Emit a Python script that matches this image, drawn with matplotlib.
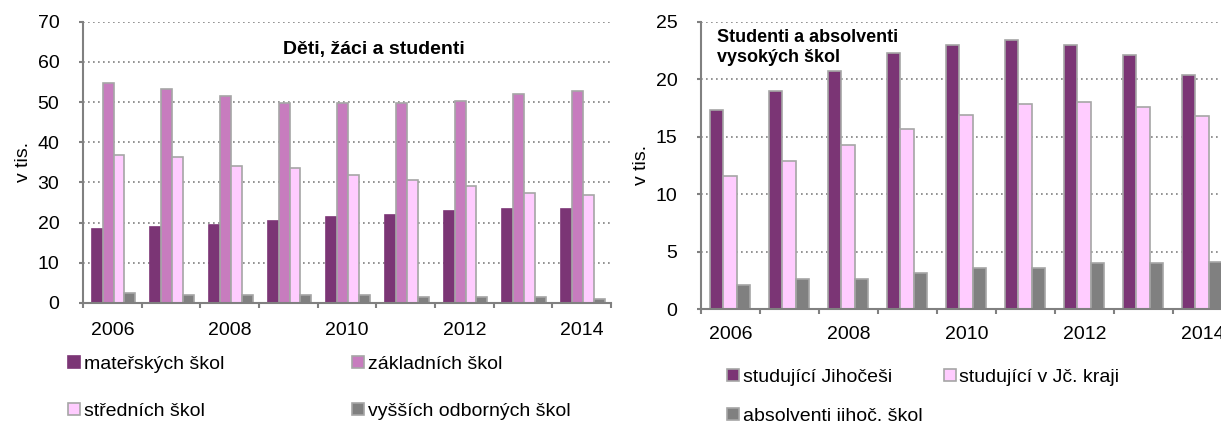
import matplotlib.pyplot as plt
import numpy as np
from matplotlib.ticker import FixedLocator

plt.rcParams['font.family'] = ['Liberation Sans', 'DejaVu Sans']

# Data
years = [2006, 2007, 2008, 2009, 2010, 2011, 2012, 2013, 2014]
year_labels = ['2006', '', '2008', '', '2010', '', '2012', '', '2014']

materske = [18.4, 18.9, 19.4, 20.3, 21.3, 21.8, 22.8, 23.3, 23.3]
zakladni = [54.8, 53.3, 51.4, 49.9, 49.8, 49.9, 50.4, 51.9, 52.8]
stredni = [36.9, 36.4, 34.0, 33.5, 31.9, 30.5, 29.0, 27.5, 27.0]
vyssi_odborne = [2.4, 2.0, 1.9, 1.9, 1.9, 1.5, 1.5, 1.5, 1.0]

studujici_jihocesi = [17.3, 19.0, 20.7, 22.3, 23.0, 23.4, 23.0, 22.1, 20.4]
studujici_jc_kraj = [11.6, 12.9, 14.3, 15.7, 16.9, 17.8, 18.0, 17.6, 16.8]
absolventi = [2.1, 2.6, 2.6, 3.1, 3.6, 3.6, 4.0, 4.0, 4.1]

left_names = ['mateřských škol', 'základních škol', 'středních škol', 'vyšších odborných škol']
right_names = ['studující Jihočeši', 'studující v Jč. kraji', 'absolventi jihoč. škol']

DARK = '#7B3575'
MID = '#C77CBE'
LIGHT = '#FFCCFF'
GREY = '#808080'
EDGE = '#A6A6A6'
AXIS = '#808080'


def style_axes(ax, ymax, ystep, xpad):
    n = len(years)
    ax.set_xlim(-0.5, n - 0.5)
    ax.set_ylim(0, ymax)
    ax.set_yticks(np.arange(0, ymax + 0.1, ystep))
    ax.set_xticks(range(n))
    ax.set_xticklabels(year_labels)
    ax.xaxis.set_minor_locator(FixedLocator(np.arange(-0.5, n, 1)))
    ax.tick_params(axis='x', which='major', length=0, pad=xpad, labelsize=14)
    ax.tick_params(axis='x', which='minor', length=3.6, width=1.5, color=AXIS, direction='out')
    ax.tick_params(axis='y', length=3, width=1.5, color=AXIS, labelsize=14, pad=14)
    ax.grid(axis='y', linestyle=(0, (1, 2)), color='#808080', linewidth=1.2)
    ax.set_axisbelow(True)
    for s in ['top', 'right']:
        ax.spines[s].set_visible(False)
    for s in ['left', 'bottom']:
        ax.spines[s].set_color(AXIS)
        ax.spines[s].set_linewidth(1.5)
    ax.set_ylabel('v tis.', fontsize=14, labelpad=4)


fig = plt.figure(figsize=(12.21, 4.21), dpi=100)

# Left chart
ax1 = fig.add_axes([0.068, 0.2803, 0.4324, 0.668])
x = np.arange(len(years))
w = 0.186
offs = np.array([-1.5, -0.5, 0.5, 1.5]) * w + 0.02
series = [materske, zakladni, stredni, vyssi_odborne]
colors = [DARK, MID, LIGHT, GREY]
bars1 = []
for vals, off, c, name in zip(series, offs, colors, left_names):
    ec = c if c == DARK else EDGE
    bars1.append(ax1.bar(x + off, vals, w, color=c, edgecolor=ec, linewidth=1.2, label=name))
style_axes(ax1, 70, 10, 14)
ax1.text(0.55, 0.9, 'Děti, žáci a studenti', transform=ax1.transAxes,
         ha='center', va='center', fontsize=14, fontweight='bold')
# legend filled row by row
order = [0, 2, 1, 3]
ax1.legend([bars1[i] for i in order], [left_names[i] for i in order],
           loc='upper left', bbox_to_anchor=(-0.043, -0.16), ncol=2, frameon=False,
           fontsize=14, handlelength=0.6, handleheight=0.6, handletextpad=0.2,
           columnspacing=6.6, labelspacing=1.55, borderaxespad=0)

# Right chart
ax2 = fig.add_axes([0.5741, 0.266, 0.4349, 0.6825])
w2 = 0.227
offs2 = np.array([-1, 0, 1]) * w2 - 0.01
series2 = [studujici_jihocesi, studujici_jc_kraj, absolventi]
colors2 = [DARK, LIGHT, GREY]
bars2 = []
for vals, off, c, name in zip(series2, offs2, colors2, right_names):
    bars2.append(ax2.bar(x + off, vals, w2, color=c, edgecolor=EDGE, linewidth=1.2, label=name))
style_axes(ax2, 25, 5, 12)
ax2.text(0.03, 0.975, 'Studenti a absolventi\nvysokých škol', transform=ax2.transAxes,
         ha='left', va='top', fontsize=13, fontweight='bold', linespacing=1.25)
order2 = [0, 2, 1]
ax2.legend([bars2[i] for i in order2], [right_names[i] for i in order2],
           loc='upper left', bbox_to_anchor=(0.035, -0.18), ncol=2, frameon=False,
           fontsize=14, handlelength=0.6, handleheight=0.6, handletextpad=0.2,
           columnspacing=1.1, labelspacing=1.15, borderaxespad=0)

fig.savefig('out.png', dpi=100)
